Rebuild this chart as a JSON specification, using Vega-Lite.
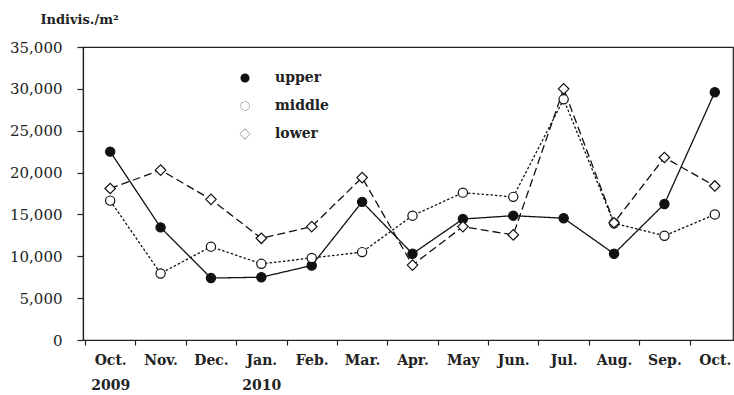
{
  "$schema": "https://vega.github.io/schema/vega-lite/v6.json",
  "width": 650,
  "height": 293,
  "autosize": {"type": "none"},
  "padding": {"left": 83, "top": 47, "right": 1, "bottom": 55},
  "background": "white",
  "config": {
    "font": "DejaVu Serif",
    "view": {"stroke": "#222", "strokeWidth": 1.2},
    "axis": {
      "domainColor": "#222",
      "domainWidth": 1.2,
      "tickColor": "#222",
      "tickWidth": 1.2,
      "labelColor": "#222",
      "labelFont": "DejaVu Serif",
      "grid": false
    }
  },
  "data": {
    "values": [
      {"month": "Oct. 2009", "series": "upper", "value": 22500},
      {"month": "Nov.", "series": "upper", "value": 13450},
      {"month": "Dec.", "series": "upper", "value": 7400},
      {"month": "Jan. 2010", "series": "upper", "value": 7500},
      {"month": "Feb.", "series": "upper", "value": 8900},
      {"month": "Mar.", "series": "upper", "value": 16500},
      {"month": "Apr.", "series": "upper", "value": 10300},
      {"month": "May", "series": "upper", "value": 14450},
      {"month": "Jun.", "series": "upper", "value": 14850},
      {"month": "Jul.", "series": "upper", "value": 14550},
      {"month": "Aug.", "series": "upper", "value": 10300},
      {"month": "Sep.", "series": "upper", "value": 16250},
      {"month": "Oct. 2010", "series": "upper", "value": 29600},

      {"month": "Oct. 2009", "series": "middle", "value": 16650},
      {"month": "Nov.", "series": "middle", "value": 7950},
      {"month": "Dec.", "series": "middle", "value": 11150},
      {"month": "Jan. 2010", "series": "middle", "value": 9100},
      {"month": "Feb.", "series": "middle", "value": 9800},
      {"month": "Mar.", "series": "middle", "value": 10500},
      {"month": "Apr.", "series": "middle", "value": 14850},
      {"month": "May", "series": "middle", "value": 17600},
      {"month": "Jun.", "series": "middle", "value": 17100},
      {"month": "Jul.", "series": "middle", "value": 28750},
      {"month": "Aug.", "series": "middle", "value": 13950},
      {"month": "Sep.", "series": "middle", "value": 12450},
      {"month": "Oct. 2010", "series": "middle", "value": 15000},

      {"month": "Oct. 2009", "series": "lower", "value": 18100},
      {"month": "Nov.", "series": "lower", "value": 20300},
      {"month": "Dec.", "series": "lower", "value": 16800},
      {"month": "Jan. 2010", "series": "lower", "value": 12150},
      {"month": "Feb.", "series": "lower", "value": 13550},
      {"month": "Mar.", "series": "lower", "value": 19400},
      {"month": "Apr.", "series": "lower", "value": 8950},
      {"month": "May", "series": "lower", "value": 13550},
      {"month": "Jun.", "series": "lower", "value": 12550},
      {"month": "Jul.", "series": "lower", "value": 30000},
      {"month": "Aug.", "series": "lower", "value": 14000},
      {"month": "Sep.", "series": "lower", "value": 21800},
      {"month": "Oct. 2010", "series": "lower", "value": 18400}
    ]
  },
  "encoding": {
    "x": {
      "field": "month",
      "type": "nominal",
      "sort": null,
      "scale": {
        "domain": ["Oct. 2009", "Nov.", "Dec.", "Jan. 2010", "Feb.", "Mar.", "Apr.", "May", "Jun.", "Jul.", "Aug.", "Sep.", "Oct. 2010"],
        "range": [2, 657],
        "paddingInner": 0,
        "paddingOuter": 0
      },
      "axis": {
        "title": null,
        "labelAngle": 0,
        "tickBand": "extent",
        "tickSize": 5,
        "labelPadding": 8,
        "labelFontSize": 14,
        "labelFontWeight": "bold",
        "labelLineHeight": 25,
        "labelExpr": "!datum.value ? '' : datum.value === 'Oct. 2010' ? 'Oct.' : split(datum.value, ' ')"
      }
    },
    "y": {
      "field": "value",
      "type": "quantitative",
      "scale": {"domain": [0, 35000], "nice": false},
      "axis": {
        "values": [0, 5000, 10000, 15000, 20000, 25000, 30000, 35000],
        "labelExpr": "format(datum.value, ',.0f')",
        "tickSize": 6,
        "labelPadding": 15,
        "labelFontSize": 15,
        "title": "Indivis./m²",
        "titleAngle": 0,
        "titleAlign": "left",
        "titleBaseline": "alphabetic",
        "titleX": -43,
        "titleY": -24,
        "titleFont": "DejaVu Serif",
        "titleFontSize": 13,
        "titleFontWeight": "bold",
        "titleColor": "#222"
      }
    }
  },
  "layer": [
    {
      "mark": {"type": "line", "color": "#111", "strokeWidth": 1.3},
      "encoding": {
        "detail": {"field": "series"},
        "strokeDash": {
          "condition": [
            {"test": "datum.series === 'middle'", "value": [2.5, 2]},
            {"test": "datum.series === 'lower'", "value": [8, 4]}
          ],
          "value": [1, 0]
        }
      }
    },
    {
      "mark": {"type": "point", "filled": false, "stroke": "#111", "strokeWidth": 1.2, "opacity": 1},
      "encoding": {
        "shape": {
          "condition": {"test": "datum.series === 'lower'", "value": "diamond"},
          "value": "circle"
        },
        "fill": {
          "condition": {"test": "datum.series === 'upper'", "value": "#111"},
          "value": "white"
        },
        "size": {
          "condition": {"test": "datum.series === 'lower'", "value": 110},
          "value": 85
        }
      }
    },
    {
      "description": "Key: each series' line style with its marker, as a zero-size point layer whose shape scale carries the key glyphs",
      "mark": {"type": "point", "filled": true, "color": "#111", "size": 0},
      "encoding": {
        "shape": {
          "field": "series",
          "type": "nominal",
          "scale": {
            "domain": ["upper", "middle", "lower"],
            "range": [
              "M-2.29,0L2.29,0M0.38,0A0.38,0.38,0,1,1,-0.38,0A0.38,0.38,0,1,1,0.38,0Z",
              "M-2.29,0L-2.06,0M-1.89,0L-1.66,0M-1.49,0L-1.26,0M-1.09,0L-0.86,0M-0.69,0L-0.45,0M0.45,0L0.69,0M0.86,0L1.09,0M1.26,0L1.49,0M1.66,0L1.89,0M2.06,0L2.29,0M0.38,0A0.38,0.38,0,1,1,-0.38,0A0.38,0.38,0,1,1,0.38,0ZM0.36,0A0.36,0.36,0,1,0,-0.36,0A0.36,0.36,0,1,0,0.36,0Z",
              "M-2.29,0L-1.62,0M-1.29,0L-0.62,0M0.62,0L1.29,0M1.62,0L2.29,0M0,-0.45L0.45,0L0,0.45L-0.45,0ZM0,-0.42L-0.42,0L0,0.42L0.42,0Z"
            ]
          },
          "legend": {
            "title": null,
            "orient": "none",
            "legendX": 149,
            "legendY": 18,
            "padding": 0,
            "symbolSize": 576,
            "symbolOpacity": 1,
            "symbolStrokeColor": "#111",
            "symbolStrokeWidth": 1.2,
            "rowPadding": 8,
            "labelOffset": 17,
            "labelFont": "DejaVu Serif",
            "labelFontSize": 14,
            "labelFontWeight": "bold",
            "labelColor": "#222"
          }
        }
      }
    }
  ]
}
